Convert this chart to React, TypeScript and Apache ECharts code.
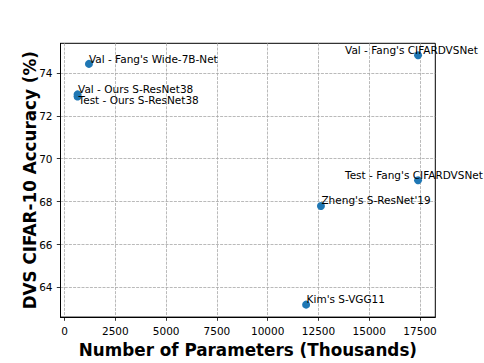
import React, { useEffect, useRef } from "react";
import * as echarts from "echarts";

const names = [
  "Val - Fang's Wide-7B-Net",
  "Val - Ours S-ResNet38",
  "Test - Ours S-ResNet38",
  "Val - Fang's CIFARDVSNet",
  "Test - Fang's CIFARDVSNet",
  "Zheng's S-ResNet'19",
  "Kim's S-VGG11",
];
const params = [1200, 640, 640, 17400, 17400, 12620, 11890];
const accuracy = [74.42, 73.0, 72.9, 74.82, 69.0, 67.8, 63.2];
// label offsets (px) of text's left/bottom from point centre
const labelDx = [0, 0.5, 1, -73, -73, 0.5, 0.5];
const labelDy = [1, 0, 9, 0, 0, 0, 0];
const xTicks = [0, 2500, 5000, 7500, 10000, 12500, 15000, 17500];
const yTicks = [64, 66, 68, 70, 72, 74];

const FONT = "DejaVu Sans";
const SYM = 8;

export default function App() {
  const ref = useRef<HTMLDivElement>(null);
  useEffect(() => {
    if (!ref.current) return;
    const chart = echarts.init(ref.current, null, { renderer: "svg" });
    const data = names.map((n, i) => ({
      value: [params[i], accuracy[i]],
      name: n,
      label: {
        show: true,
        formatter: n,
        position: [SYM / 2 + labelDx[i], SYM / 2 + labelDy[i]],
        align: "left",
        verticalAlign: "bottom",
        color: "#000",
        fontFamily: FONT,
        fontSize: 10.5,
      },
    }));
    const axisCommon = {
      axisLine: { show: true, onZero: false, lineStyle: { color: "#000", width: 1 } },
      axisTick: { show: true, inside: false, length: 3.7, lineStyle: { color: "#000", width: 0.8 } },
      splitLine: { show: true, lineStyle: { color: "#a8a8a8", width: 0.8, type: [3, 1.2] } },
      nameTextStyle: { fontFamily: FONT, fontWeight: "bold", fontSize: 16.8, color: "#000" },
    };
    chart.setOption({
      animation: false,
      grid: {
        left: 60.5,
        right: 48.7,
        top: 43.3,
        bottom: 40.3,
        show: true,
        borderColor: "#000",
        borderWidth: 1,
        backgroundColor: "transparent",
      },
      xAxis: {
        type: "value",
        min: -200,
        max: 18250,
        name: "Number of Parameters (Thousands)",
        nameLocation: "middle",
        nameGap: 21.5,
        ...axisCommon,
        axisTick: { ...axisCommon.axisTick, customValues: xTicks },
        axisLabel: {
          customValues: xTicks,
          formatter: (v: number) => String(v),
          margin: 8,
          color: "#000",
          fontFamily: FONT,
          fontSize: 10.5,
        },
      },
      yAxis: {
        type: "value",
        min: 62.62,
        max: 75.38,
        name: "DVS CIFAR-10 Accuracy (%)",
        nameLocation: "middle",
        nameGap: 22,
        nameMoveOverlap: false,
        ...axisCommon,
        axisTick: { ...axisCommon.axisTick, customValues: yTicks },
        axisLabel: {
          customValues: yTicks,
          formatter: (v: number) => String(v),
          margin: 8,
          color: "#000",
          fontFamily: FONT,
          fontSize: 10.5,
        },
      },
      series: [
        {
          type: "scatter",
          symbolSize: SYM,
          itemStyle: { color: "#1f77b4", opacity: 1 },
          data,
        },
      ],
    });
    return () => chart.dispose();
  }, []);
  return (
    <div
      ref={ref}
      style={{ position: "fixed", left: 0, top: 0, width: 484, height: 363, background: "#fff" }}
    />
  );
}
